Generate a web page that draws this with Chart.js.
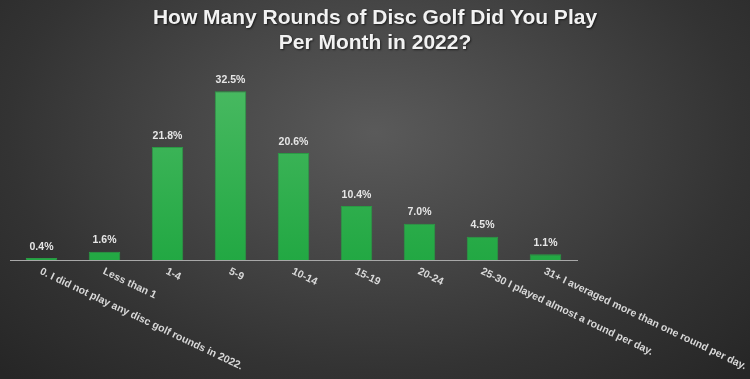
<!DOCTYPE html>
<html>
<head>
<meta charset="utf-8">
<script src="https://cdn.jsdelivr.net/npm/chart.js@4"></script>
<style>
  html, body { margin: 0; padding: 0; }
  body {
    width: 750px; height: 379px; overflow: hidden;
    background: radial-gradient(ellipse 70% 90% at 50% 35%, #5a5a5a 0%, #474747 35%, #333 70%, #262626 100%);
  }
</style>
</head>
<body>
<canvas id="chart" width="750" height="379"></canvas>
<script>
const categories = [
  '0. I did not play any disc golf rounds in 2022.',
  'Less than 1',
  '1-4',
  '5-9',
  '10-14',
  '15-19',
  '20-24',
  '25-30 I played almost a round per day.',
  '31+ I averaged more than one round per day.'
];
const shares = [0.4, 1.6, 21.8, 32.5, 20.6, 10.4, 7.0, 4.5, 1.1];
const titleLines = ['How Many Rounds of Disc Golf Did You Play', 'Per Month in 2022?'];

const labelFont = 'bold 10.5px "Liberation Sans", Arial, sans-serif';

// title centred on the whole canvas
const pageTitle = {
  id: 'pageTitle',
  afterDraw(chart) {
    const ctx = chart.ctx;
    ctx.save();
    ctx.font = 'bold 21px "Liberation Sans", Arial, sans-serif';
    ctx.fillStyle = '#f2f2f2';
    ctx.textAlign = 'center';
    ctx.textBaseline = 'middle';
    ctx.shadowColor = 'rgba(0,0,0,0.6)';
    ctx.shadowOffsetX = 1;
    ctx.shadowOffsetY = 1;
    ctx.shadowBlur = 2;
    titleLines.forEach((t, i) => ctx.fillText(t, chart.width / 2, 18 + i * 25));
    ctx.restore();
  }
};

// bar value labels above each bar
const valueLabels = {
  id: 'valueLabels',
  afterDatasetsDraw(chart) {
    const ctx = chart.ctx;
    const meta = chart.getDatasetMeta(0);
    ctx.save();
    ctx.font = labelFont;
    ctx.fillStyle = '#e6e6e6';
    ctx.textAlign = 'center';
    ctx.textBaseline = 'bottom';
    meta.data.forEach((bar, i) => {
      ctx.fillText(shares[i].toFixed(1) + '%', bar.x, bar.y - 6);
    });
    ctx.restore();
  }
};

// category labels slanting down to the right from each tick
const slantLabels = {
  id: 'slantLabels',
  afterDraw(chart) {
    const ctx = chart.ctx;
    const x = chart.scales.x;
    const y0 = chart.chartArea.bottom + 11;
    ctx.save();
    ctx.font = labelFont;
    ctx.fillStyle = '#d8d8d8';
    ctx.textAlign = 'left';
    ctx.textBaseline = 'middle';
    categories.forEach((c, i) => {
      ctx.save();
      ctx.translate(x.getPixelForValue(i) - 1, y0);
      ctx.rotate(25.5 * Math.PI / 180);
      ctx.fillText(c, 0, 0);
      ctx.restore();
    });
    ctx.restore();
  }
};

const ctx = document.getElementById('chart').getContext('2d');

new Chart(ctx, {
  type: 'bar',
  data: {
    labels: categories,
    datasets: [{
      data: shares,
      backgroundColor: (c) => {
        const area = c.chart.chartArea;
        if (!area) return '#2db34a';
        const g = c.chart.ctx.createLinearGradient(0, area.top, 0, area.bottom);
        g.addColorStop(0, '#4cbb64');
        g.addColorStop(1, '#22a843');
        return g;
      },
      borderColor: '#2a9a44',
      borderWidth: 1,
      barPercentage: 0.5,
      categoryPercentage: 1
    }]
  },
  options: {
    responsive: false,
    animation: false,
    devicePixelRatio: 1,
    layout: { padding: { left: 10, right: 173, top: 68, bottom: 119 } },
    scales: {
      x: {
        ticks: { display: false },
        grid: { display: false, drawTicks: false },
        border: { display: true, color: '#a8a8a8', width: 1 }
      },
      y: {
        display: false,
        min: 0,
        max: 37
      }
    },
    plugins: {
      legend: { display: false },
      tooltip: { enabled: false },
      title: { display: false }
    }
  },
  plugins: [valueLabels, slantLabels, pageTitle]
});
</script>
</body>
</html>
